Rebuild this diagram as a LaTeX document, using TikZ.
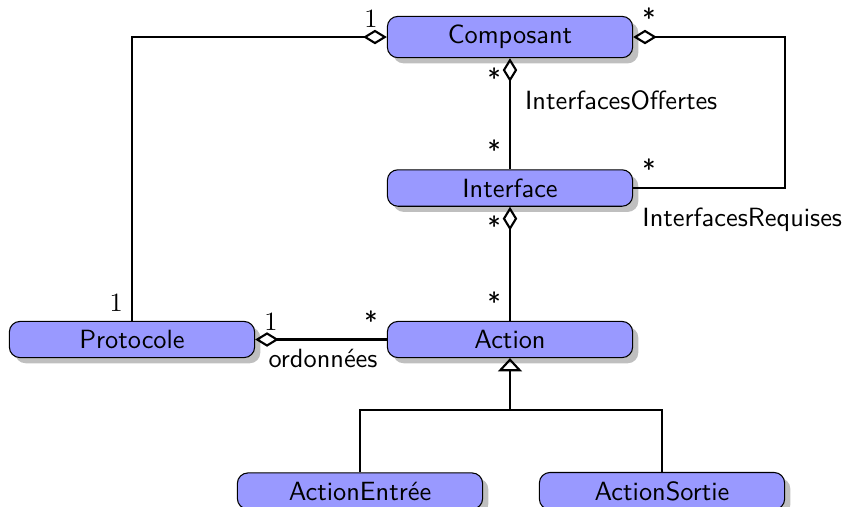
\documentclass[tikz,border=0pt]{standalone}
\usetikzlibrary{arrows.meta,shadows}
\tikzset{
    classe/.style={draw, rounded corners=4pt, fill=blue!40, drop shadow, minimum width=3.27cm},
    agg/.style={{Diamond[open,length=9pt,width=5.5pt]}-, thick},
    herit/.style={{Triangle[open,length=5pt,width=9pt]}-, thick},
}
\begin{document}
\begin{tikzpicture}[font=\sffamily]
    \useasboundingbox (0,0) rectangle (11.307,6.747);
    \node[classe] (comp) at (6.8,6.253) {Composant};
    \node[classe] (interf) at (6.8,4.24) {Interface};
    \node[classe] (action) at (6.8,2.22) {Action};
    \node[classe] (proto) at (1.76,2.22) {Protocole};
    \node[classe] (entree) at (4.8,0.2) {ActionEntrée};
    \node[classe] (sortie) at (8.827,0.2) {ActionSortie};
    \coordinate (cg) at (proto.north |- comp.west);
    \coordinate (cd) at (10.467,0 |- comp.east);
    \coordinate (ci) at (cd |- interf.east);
    \coordinate (bh) at (6.8,1.28);
    % composant - protocole
    \draw[agg] (comp.west) -- (cg) -- (proto.north);
    \node[above left] (m1) at (comp.west) {$1$};
    \node[above left] (m2) at (proto.north) {$1$};
    % interfaces offertes
    \draw[agg] (comp.south) -- (interf.north) node[pos=0.38, right, xshift=2pt] (off) {InterfacesOffertes};
    \node[below left] (m3) at (comp.south) {*};
    \node[above left] (m4) at (interf.north) {*};
    % interfaces requises
    \draw[agg] (comp.east) -- (cd) -- (ci) -- (interf.east);
    \node[above right] (m5) at (comp.east) {*};
    \node[above right] (m6) at (interf.east) {*};
    \node[below right, yshift=-4pt] (req) at (interf.east) {InterfacesRequises};
    % actions
    \draw[agg] (interf.south) -- (action.north);
    \node[below left] (m7) at (interf.south) {*};
    \node[above left] (m8) at (action.north) {*};
    \draw[agg] (proto.east) -- (action.west);
    \node[above right] (m9) at (proto.east) {$1$};
    \node[above left] (m10) at (action.west) {*};
    \node[below left] (ord) at (action.west) {ordonnées};
    % heritage
    \draw[herit] (action.south) -- (bh);
    \draw[thick] (entree.north) |- (bh) -| (sortie.north);
\end{tikzpicture}
\end{document}
